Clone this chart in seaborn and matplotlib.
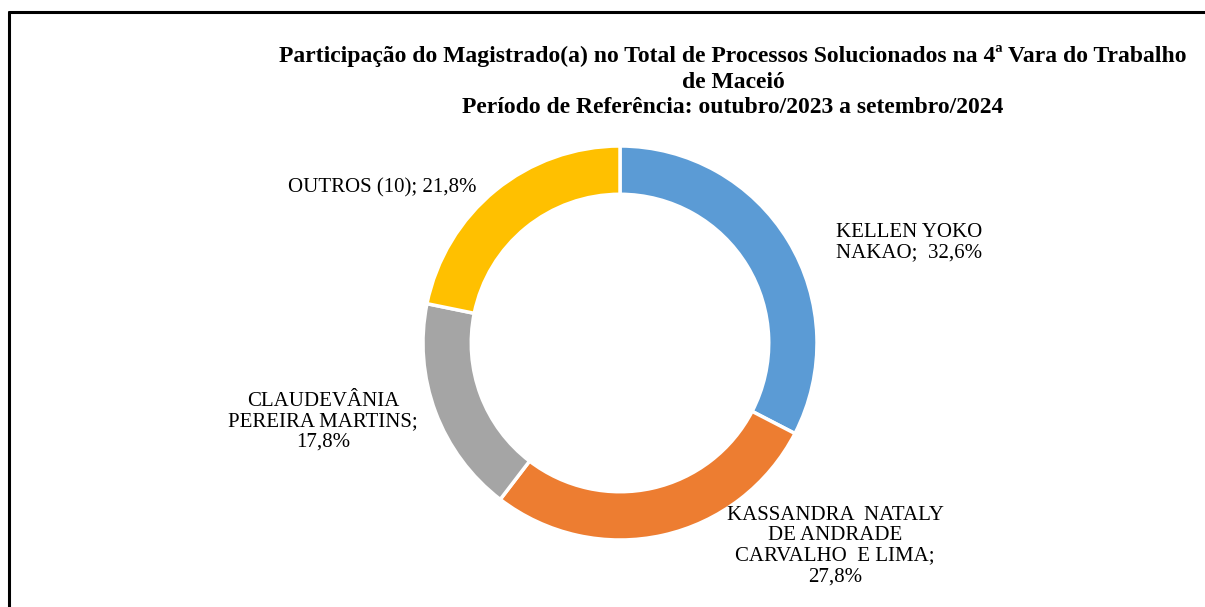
import matplotlib
matplotlib.use("Agg")
import matplotlib.pyplot as plt
import seaborn as sns

# dados
magistrados = ["KELLEN YOKO\nNAKAO", "KASSANDRA  NATALY\nDE ANDRADE\nCARVALHO  E LIMA",
               "CLAUDEVÂNIA\nPEREIRA MARTINS", "OUTROS (10)"]
percentuais = [32.6, 27.8, 17.8, 21.8]
rotulos = ["KELLEN YOKO\nNAKAO;  32,6%", "KASSANDRA  NATALY\nDE ANDRADE\nCARVALHO  E LIMA;\n27,8%",
           "CLAUDEVÂNIA\nPEREIRA MARTINS;\n17,8%", "OUTROS (10); 21,8%"]
cores = ["#5B9BD5", "#ED7D31", "#A5A5A5", "#FFC000"]
titulo = ["Participação do Magistrado(a) no Total de Processos Solucionados na 4ª Vara do Trabalho",
          "de Maceió",
          "Período de Referência: outubro/2023 a setembro/2024"]

sns.set_theme(style="white")
plt.rcParams["font.family"] = ["Liberation Serif", "DejaVu Serif"]
plt.rcParams["text.color"] = "black"

W, H = 1205, 607
fig = plt.figure(figsize=(W / 100, H / 100), dpi=100)

# moldura (so lados visiveis)
fig.add_artist(plt.Line2D([9 / W, 9 / W], [0, 1 - 12 / H], transform=fig.transFigure,
                          color="black", lw=2.2))
fig.add_artist(plt.Line2D([9 / W, 1], [1 - 12 / H, 1 - 12 / H], transform=fig.transFigure,
                          color="black", lw=2.2))

# titulo
for linha, yb in zip(titulo, [62, 88, 113]):
    fig.text(733 / W, 1 - yb / H, linha, ha="center", va="baseline",
             fontsize=17, fontweight="bold")

# rosca
cx, cy, r = 620, 343, 197
ax = fig.add_axes([(cx - r) / W, 1 - (cy + r) / H, 2 * r / W, 2 * r / H])
ax.pie(percentuais, colors=cores, startangle=90, counterclock=False, radius=1,
       wedgeprops=dict(width=0.245, edgecolor="white", linewidth=2.5))
ax.set_xlim(-1, 1)
ax.set_ylim(-1, 1)
ax.set_aspect("equal")
ax.axis("off")

# posicoes dos rotulos (pixels)
pos_rotulos = [(909, 243), (835, 546), (323, 422), (382, 188)]
for txt, (px, py) in zip(rotulos, pos_rotulos):
    fig.text(px / W, 1 - py / H, txt, ha="center", va="center", fontsize=15,
             linespacing=1.1)

fig.savefig("out.png", dpi=100, facecolor="white")
